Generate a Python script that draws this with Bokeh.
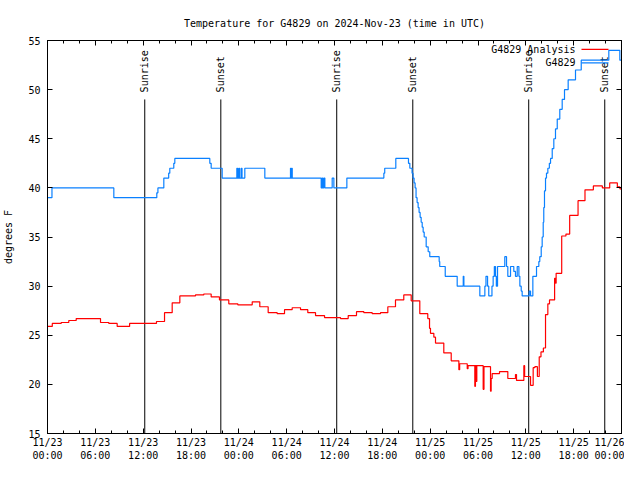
import numpy as np
from bokeh.plotting import figure
from bokeh.models import FixedTicker, LinearAxis, Range1d, Label
from bokeh.core.properties import value
from bokeh.embed import file_html
from bokeh.resources import INLINE

FONT = "DejaVu Sans Mono"
FS = "10px"
BLUE = "#0a80ff"
RED = "#ff0000"

# ---------------- data (hours since 2024-11-23 00:00 UTC) ----------------
obs_hours = [0, 0.56, 8.32, 13.71, 13.85, 14.59, 15.2, 15.34, 15.84, 15.97, 20.36, 20.53, 21.91,
             23.75, 23.85, 24.0, 24.1, 24.3, 24.4, 24.75, 27.26, 30.48, 30.55, 30.62, 30.7,
             34.33, 34.45, 34.52, 34.66, 34.79, 35.71, 35.92, 37.55, 42.19, 42.3, 43.69, 45.28,
             45.45, 45.73, 45.85, 45.98, 46.11, 46.23, 46.36, 46.49, 46.61, 46.74, 46.87, 47.0,
             47.12, 47.25, 47.5, 47.75, 47.95, 49.13, 49.2, 49.89, 51.39, 52.15, 52.23, 54.23,
             54.86, 55.0, 55.2, 55.35, 55.75, 55.9, 56.05, 56.2, 56.3, 56.45, 57.36, 57.58, 57.74,
             58.08, 58.49, 58.7, 58.92, 59.13, 59.25, 59.42, 59.54, 60.42, 60.59, 60.88, 61.34,
             61.63, 61.75, 61.93, 62.05, 62.18, 62.25, 62.34, 62.47, 62.59, 62.76, 62.95, 63.1,
             63.31, 63.51, 63.72, 63.94, 64.26, 64.56, 64.85, 65.31, 66.23, 66.95, 70.41, 71.79, 72]
obs_temps = [39, 40, 39, 39.5, 40, 41, 41.5, 42, 42.5, 43, 42.5, 42, 41,
             42, 41, 42, 41, 42, 41, 42, 41, 42, 41, 42, 41,
             40, 41, 40, 41, 40, 41, 40, 41, 41.5, 42, 43, 42.5,
             42, 41.5, 41, 40.5, 40, 39, 38.5, 38, 37.5, 37, 36.5, 36,
             35.5, 35, 34, 33.5, 33, 32.5, 32, 31, 30, 31, 30, 29,
             30, 31, 30, 29, 30, 31, 32, 31, 30, 32, 33, 32, 31,
             32, 31.5, 31, 32, 31, 30, 29.5, 29, 29.5, 29, 31, 32,
             32.5, 33, 34, 35, 36.5, 38, 39.7, 41, 41.5, 42, 42.5, 43,
             44, 45, 46, 47, 48, 49, 50, 51, 52, 53, 54, 53, 53]

ana_hours = [0, 0.6, 1.72, 2.67, 3.6, 6.65, 7.69, 8.74, 10.3, 12.7, 13.67, 14.68, 15.64, 16.6,
             18.56, 19.6, 20.53, 21.57, 22.74, 23.87, 25.68, 26.63, 27.68, 28.81, 29.73, 30.69,
             31.74, 32.65, 33.62, 34.75, 36.75, 37.72, 38.76, 39.68, 40.73, 41.77, 42.69, 43.65,
             44.69, 45.62, 46.7, 47.7, 47.92, 48.04, 48.46, 48.67, 49.71, 50.64, 51.6, 51.7,
             52.65, 52.75, 53.6, 53.68, 53.78, 53.85, 54.65, 54.75, 55.57, 55.65, 55.78, 56.7,
             57.74, 58.7, 58.83, 59.75, 59.85, 60.59, 60.92, 61.13, 61.45, 61.68, 61.9, 62.2,
             62.47, 62.76, 62.97, 63.61, 63.73, 63.8, 64.5, 65.03, 65.5, 66.55, 67.42, 68.47,
             69.6, 70.52, 71.48, 71.8, 72]
ana_temps = [25.9, 26.2, 26.3, 26.5, 26.7, 26.3, 26.2, 25.9, 26.2, 26.2, 26.4, 27.3, 28.3, 29.0,
             29.1, 29.2, 28.9, 28.6, 28.2, 28.1, 28.4, 27.9, 27.3, 27.2, 27.6, 27.8,
             27.6, 27.3, 27.0, 26.8, 26.7, 27.0, 27.4, 27.3, 27.2, 27.3, 27.9, 28.6,
             29.1, 28.5, 27.2, 26.7, 25.7, 25.2, 24.8, 24.2, 23.2, 22.4, 21.5, 22.1,
             21.6, 21.9, 19.8, 21.9, 20.3, 21.9, 19.5, 21.8, 19.3, 20.6, 21.1, 21.3,
             20.6, 21.0, 20.4, 21.9, 20.8, 19.9, 21.7, 21.8, 20.8, 22.8, 23.3, 23.7,
             27.1, 28.2, 28.6, 30.8, 30.3, 31.3, 35.1, 35.3, 37.2, 38.7, 39.8, 40.2,
             40.0, 40.5, 40.1, 39.9, 39.9]

event_hours = [12.2, 21.74, 36.28, 45.82, 60.36, 69.9]
event_names = ["Sunrise", "Sunset", "Sunrise", "Sunset", "Sunrise", "Sunset"]

x_ticks = [0, 6, 12, 18, 24, 30, 36, 42, 48, 54, 60, 66, 72]
x_minor_ticks = list(range(0, 73, 2))
x_tick_labels = ["11/23\n00:00", "11/23\n06:00", "11/23\n12:00", "11/23\n18:00",
                 "11/24\n00:00", "11/24\n06:00", "11/24\n12:00", "11/24\n18:00",
                 "11/25\n00:00", "11/25\n06:00", "11/25\n12:00", "11/25\n18:00",
                 "11/26\n00:00"]
y_ticks = [15, 20, 25, 30, 35, 40, 45, 50, 55]

series_names = ["G4829 Analysis", "G4829"]
TITLE = "Temperature for G4829 on 2024-Nov-23 (time in UTC)"
Y_LABEL = "degrees F"

# ---------------- layout constants (not data) ----------------
Y_MIN, Y_MAX = 15, 55
EVENT_LINE_TOP = 49.0
EVENT_LABEL_Y = 49.72
KEY_TEXT_X = 66.23
KEY_LINE_X0, KEY_LINE_X1 = 66.98, 70.37
KEY_ROWS_Y = [54.09, 52.72]

p = figure(width=624, height=464, output_backend="svg", toolbar_location=None,
           x_range=Range1d(0, 72), y_range=Range1d(Y_MIN, Y_MAX),
           min_border_left=47, min_border_right=3, min_border_top=40, min_border_bottom=29,
           title=TITLE)
p.title.text_font = FONT
p.title.text_font_size = FS
p.title.text_font_style = "normal"
p.title.text_color = "black"
p.title.align = "center"
p.title.standoff = 24
p.grid.visible = False
p.outline_line_color = "black"
p.outline_line_width = 1
p.outline_line_alpha = 1
p.background_fill_color = "white"
p.border_fill_color = "white"


def style_axis(ax, minor_in=0):
    ax.axis_line_color = "black"
    ax.major_tick_line_color = "black"
    ax.minor_tick_line_color = "black"
    ax.major_tick_in = 5
    ax.major_tick_out = 0
    ax.minor_tick_in = minor_in
    ax.minor_tick_out = 0
    ax.major_label_text_font = FONT
    ax.major_label_text_font_size = FS
    ax.major_label_text_color = "black"


xa = p.xaxis[0]
xa.ticker = FixedTicker(ticks=x_ticks, minor_ticks=x_minor_ticks)
xa.major_label_overrides = dict(zip(x_ticks, x_tick_labels))
style_axis(xa, 3)
xa.major_label_standoff = 3
xa.major_label_text_line_height = 1.25

ya = p.yaxis[0]
ya.ticker = FixedTicker(ticks=y_ticks)
style_axis(ya)
ya.major_label_standoff = 7
ya.axis_label = Y_LABEL
ya.axis_label_text_font = FONT
ya.axis_label_text_font_size = FS
ya.axis_label_text_font_style = "normal"
ya.axis_label_text_color = "black"
ya.axis_label_standoff = 11

# mirrored tick marks (no labels) on top and right
top = LinearAxis(ticker=FixedTicker(ticks=x_ticks, minor_ticks=x_minor_ticks))
style_axis(top, 3)
top.major_label_text_color = None
top.major_label_standoff = 0
p.add_layout(top, "above")

right = LinearAxis(ticker=FixedTicker(ticks=y_ticks))
style_axis(right)
right.major_label_text_color = None
right.major_label_standoff = 0
p.add_layout(right, "right")

# sunrise / sunset markers
n = len(event_hours)
p.segment(x0=event_hours, y0=[Y_MIN] * n, x1=event_hours, y1=[EVENT_LINE_TOP] * n,
          line_color="black", line_width=1)
p.text(x=event_hours, y=[EVENT_LABEL_Y] * n, text=event_names, angle=np.pi / 2,
       text_align="left", text_baseline="middle", text_font=value(FONT),
       text_font_size=FS, text_color="black")

# series
p.step(ana_hours, ana_temps, mode="after", line_color=RED, line_width=1.2)
p.step(obs_hours, obs_temps, mode="after", line_color=BLUE, line_width=1.2)

# gnuplot-style key: text right-aligned, sample line to its right
for name, color, ky in zip(series_names, [RED, BLUE], KEY_ROWS_Y):
    p.add_layout(Label(x=KEY_TEXT_X, y=ky, text=name, text_align="right",
                       text_baseline="middle", text_font=FONT, text_font_size=FS,
                       text_color="black"))
    p.segment(x0=[KEY_LINE_X0], y0=[ky], x1=[KEY_LINE_X1], y1=[ky],
              line_color=color, line_width=1.2)

open("out.html", "w").write(file_html(p, INLINE))
